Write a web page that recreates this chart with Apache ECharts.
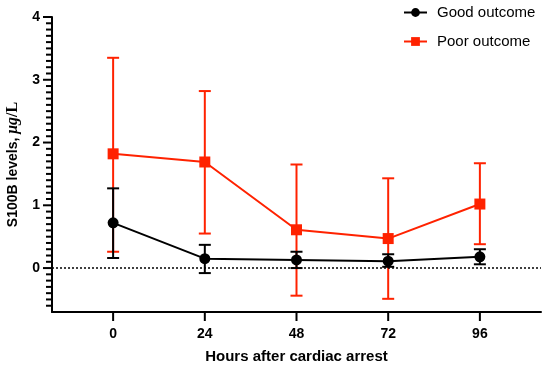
<!DOCTYPE html>
<html>
<head>
<meta charset="utf-8">
<script src="https://cdn.jsdelivr.net/npm/echarts@6/dist/echarts.min.js"></script>
<style>html,body{margin:0;padding:0;background:#fff}#c{width:550px;height:368px}</style>
</head>
<body>
<div id="c"></div>
<script>
const hours = [0, 24, 48, 72, 96];
const goodMean = [0.72, 0.15, 0.13, 0.11, 0.18];
const goodLow  = [0.16, -0.08, 0.00, 0.02, 0.06];
const goodHigh = [1.27, 0.37, 0.26, 0.22, 0.30];
const poorMean = [1.82, 1.69, 0.61, 0.47, 1.02];
const poorLow  = [0.26, 0.55, -0.44, -0.49, 0.38];
const poorHigh = [3.35, 2.82, 1.65, 1.43, 1.67];
const xTicks = [0, 24, 48, 72, 96];
const yTicks = [0, 1, 2, 3, 4];
const yMinorTicks = [];
for (let i = -6; i <= 39; i++) { if (i % 10 !== 0) yMinorTicks.push(i / 10); }

const X_MIN = -16, X_MAX = 112, Y_MIN = -0.7, Y_MAX = 4;
const RED = '#FF2200';
const BLACK = '#000000';
const FONT = 'Liberation Sans, Arial, sans-serif';

function errData(low, high) { return hours.map((h, i) => [h, low[i], high[i]]); }
function errRender(color) {
  return function (params, api) {
    const x = api.value(0);
    const lo = api.coord([x, api.value(1)]);
    const hi = api.coord([x, api.value(2)]);
    const w = 6;
    const st = { stroke: color, lineWidth: 2 };
    return { type: 'group', children: [
      { type: 'line', shape: { x1: lo[0], y1: lo[1], x2: hi[0], y2: hi[1] }, style: st },
      { type: 'line', shape: { x1: lo[0] - w, y1: lo[1], x2: lo[0] + w, y2: lo[1] }, style: st },
      { type: 'line', shape: { x1: hi[0] - w, y1: hi[1], x2: hi[0] + w, y2: hi[1] }, style: st }
    ]};
  };
}

const chart = echarts.init(document.getElementById('c'), null, { renderer: 'canvas' });
chart.setOption({
  animation: false,
  grid: { show: false, left: 52, right: 9, top: 17, bottom: 56, outerBoundsMode: 'none', containLabel: false },
  legend: {
    orient: 'vertical', left: 403, top: 5, padding: 0, itemWidth: 23, itemHeight: 11, itemGap: 14,
    data: ['Good outcome', 'Poor outcome'],
    textStyle: { fontFamily: FONT, fontSize: 15, color: '#000', padding: [0, 0, 0, 5] }
  },
  xAxis: {
    type: 'value', min: X_MIN, max: X_MAX,
    name: 'Hours after cardiac arrest', nameLocation: 'middle', nameGap: 37,
    nameTextStyle: { fontFamily: FONT, fontSize: 15, fontWeight: 'bold', color: '#000' },
    axisLine: { show: true, onZero: false, lineStyle: { color: '#000', width: 2 } },
    axisTick: { show: false },
    axisLabel: { customValues: xTicks, margin: 15, fontFamily: FONT, fontSize: 14, fontWeight: 'bold', color: '#000' },
    splitLine: { show: false }
  },
  yAxis: {
    type: 'value', min: Y_MIN, max: Y_MAX, position: 'left',
    name: '{a|S100B levels, }{b|μg}{c|/L}', nameLocation: 'middle', nameGap: 30,
    nameTextStyle: { rich: {
      a: { fontFamily: FONT, fontSize: 14, fontWeight: 'bold', color: '#000' },
      b: { fontFamily: 'Liberation Serif, serif', fontSize: 16, fontStyle: 'italic', fontWeight: 'bold', color: '#000' },
      c: { fontFamily: 'Liberation Serif, serif', fontSize: 16, fontWeight: 'bold', color: '#000' }
    } },
    axisLine: { show: true, onZero: false, lineStyle: { color: '#000', width: 2 } },
    axisTick: { show: false },
    axisLabel: { customValues: yTicks, margin: 12, fontFamily: FONT, fontSize: 14, fontWeight: 'bold', color: '#000' },
    splitLine: { show: false }
  },
  series: [
    {
      type: 'custom', name: 'poorErr', z: 2, data: errData(poorLow, poorHigh),
      renderItem: errRender(RED), encode: { x: 0, y: [1, 2] }, silent: true
    },
    {
      type: 'line', name: 'Poor outcome', z: 3, data: hours.map((h, i) => [h, poorMean[i]]),
      color: RED, symbol: 'rect', symbolSize: 11, lineStyle: { width: 2, color: RED },
      itemStyle: { color: RED }
    },
    {
      type: 'custom', name: 'goodErr', z: 4, data: errData(goodLow, goodHigh),
      renderItem: errRender(BLACK), encode: { x: 0, y: [1, 2] }, silent: true
    },
    {
      type: 'line', name: 'Good outcome', z: 5, data: hours.map((h, i) => [h, goodMean[i]]),
      color: BLACK, symbol: 'circle', symbolSize: 11, lineStyle: { width: 2, color: BLACK },
      itemStyle: { color: BLACK },
      markLine: {
        silent: true, symbol: 'none', label: { show: false },
        lineStyle: { color: '#000', type: [2, 2], width: 1.5 },
        data: [{ yAxis: 0 }]
      }
    }
  ]
});

// Axis ticks, positioned through the chart's own scales, on a top layer
const tickEls = [];
const st = { stroke: '#000', lineWidth: 2 };
yMinorTicks.forEach(v => {
  const p = chart.convertToPixel({ xAxisIndex: 0, yAxisIndex: 0 }, [X_MIN, v]);
  tickEls.push({ type: 'rect', silent: true, zlevel: 1, z: 100,
    shape: { x: p[0] - 6, y: p[1] - 1, width: 6, height: 2 }, style: { fill: '#000' } });
});
yTicks.forEach(v => {
  const p = chart.convertToPixel({ xAxisIndex: 0, yAxisIndex: 0 }, [X_MIN, v]);
  tickEls.push({ type: 'rect', silent: true, zlevel: 1, z: 100,
    shape: { x: p[0] - 9, y: p[1] - 1, width: 9, height: 2 }, style: { fill: '#000' } });
});
xTicks.forEach(v => {
  const p = chart.convertToPixel({ xAxisIndex: 0, yAxisIndex: 0 }, [v, Y_MIN]);
  tickEls.push({ type: 'rect', silent: true, zlevel: 1, z: 100,
    shape: { x: p[0] - 1, y: p[1], width: 2, height: 9 }, style: { fill: '#000' } });
});
chart.setOption({ graphic: { elements: tickEls } });
</script>
</body>
</html>
